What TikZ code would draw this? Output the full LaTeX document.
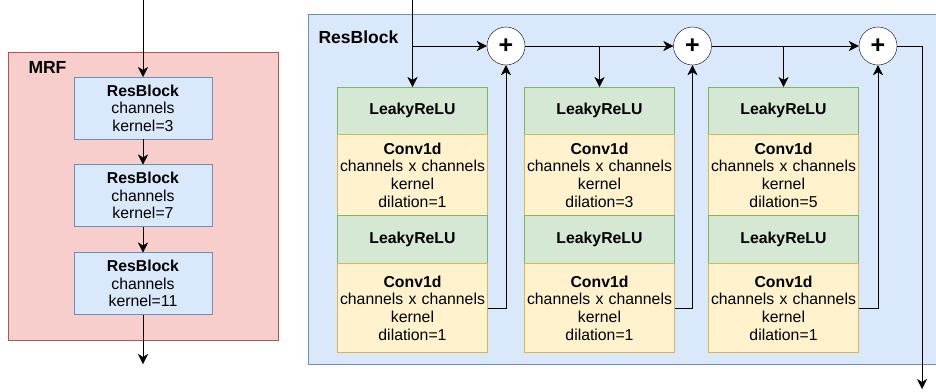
\documentclass[tikz,border=0pt]{standalone}
\usepackage{fontspec}
\setmainfont{Liberation Sans}
\usetikzlibrary{arrows.meta}
\usetikzlibrary{positioning}
\definecolor{blueFill}{HTML}{DAE8FC}
\definecolor{blueDraw}{HTML}{6C8EBF}
\definecolor{redFill}{HTML}{F8CECC}
\definecolor{redDraw}{HTML}{B85450}
\definecolor{greenFill}{HTML}{D5E8D4}
\definecolor{greenDraw}{HTML}{82B366}
\definecolor{yellowFill}{HTML}{FFF2CC}
\definecolor{yellowDraw}{HTML}{D6B656}
\tikzset{>={Stealth[length=10pt,width=10pt,inset=3pt]}, line width=1.3pt}
\tikzset{
  panel/.style={line width=1pt},
  paneltitle/.style={anchor=west, font=\bfseries\fontsize{17.5}{20}\selectfont},
  mrfbox/.style={draw=blueDraw, fill=blueFill, line width=1pt, minimum width=138pt, minimum height=62pt,
    align=center, inner sep=0pt, outer sep=0pt, font=\fontsize{15.8}{17.6}\selectfont},
  leaky/.style={draw=greenDraw, fill=greenFill, line width=1pt, minimum width=150pt, minimum height=47.5pt,
    inner sep=0pt, outer sep=0pt, font=\bfseries\fontsize{15.8}{17.6}\selectfont},
  conv/.style={draw=yellowDraw, fill=yellowFill, line width=1pt, minimum width=150pt, text width=149pt,
    align=center, inner sep=0pt, outer sep=0pt, font=\fontsize{15.8}{17.6}\selectfont},
  adder/.style={circle, draw, fill=white, minimum size=38pt, inner sep=0pt,
    font=\bfseries\fontsize{25}{25}\selectfont},
}

\begin{document}
\begin{tikzpicture}[x=1pt,y=-1pt]
  \useasboundingbox (0,0) rectangle (936,391);
  \clip (0,0) rectangle (936,391);
  \def\mx{143}
  \def\cxa{412.5}
  \def\cxb{599.5}
  \def\cxc{783.5}
  \def\ytop{87}
  \def\ysum{46}

  % MRF
  \draw[panel, draw=redDraw, fill=redFill] (8,52) rectangle (278,340);
  \node[paneltitle] (mrftitle) at (25,67) {MRF};
  \node[mrfbox] (mrf1) at (\mx,108) {\textbf{ResBlock}\\channels\\kernel=3};
  \node[mrfbox] (mrf2) at (\mx,195.5) {\textbf{ResBlock}\\channels\\kernel=7};
  \node[mrfbox] (mrf3) at (\mx,283.5) {\textbf{ResBlock}\\channels\\kernel=11};
  \coordinate (mrfin) at (\mx,0);
  \coordinate (mrfout) at (\mx,364);
  \draw[->] (mrfin) -- (mrf1);
  \draw[->] (mrf1) -- (mrf2);
  \draw[->] (mrf2) -- (mrf3);
  \draw[->] (mrf3) -- (mrfout);

  % ResBlock
  \draw[panel, draw=blueDraw, fill=blueFill] (308,14) rectangle (945,364);
  \node[paneltitle] (rbtitle) at (315,37) {ResBlock};

  % dilation 1
  \node[leaky, anchor=north] (lr11) at (\cxa,\ytop) {LeakyReLU};
  \node[conv, minimum height=81pt, below=0pt of lr11] (cv11) {\textbf{Conv1d}\\channels x channels\\kernel\\dilation=1};
  \node[leaky, minimum height=48pt, below=0pt of cv11] (lr12) {LeakyReLU};
  \node[conv, minimum height=89pt, below=0pt of lr12] (cv12) {\textbf{Conv1d}\\channels x channels\\kernel\\dilation=1};

  % dilation 3
  \node[leaky, anchor=north] (lr21) at (\cxb,\ytop) {LeakyReLU};
  \node[conv, minimum height=81pt, below=0pt of lr21] (cv21) {\textbf{Conv1d}\\channels x channels\\kernel\\dilation=3};
  \node[leaky, minimum height=48pt, below=0pt of cv21] (lr22) {LeakyReLU};
  \node[conv, minimum height=89pt, below=0pt of lr22] (cv22) {\textbf{Conv1d}\\channels x channels\\kernel\\dilation=1};

  % dilation 5
  \node[leaky, anchor=north] (lr31) at (\cxc,\ytop) {LeakyReLU};
  \node[conv, minimum height=81pt, below=0pt of lr31] (cv31) {\textbf{Conv1d}\\channels x channels\\kernel\\dilation=5};
  \node[leaky, minimum height=48pt, below=0pt of cv31] (lr32) {LeakyReLU};
  \node[conv, minimum height=89pt, below=0pt of lr32] (cv32) {\textbf{Conv1d}\\channels x channels\\kernel\\dilation=1};

  % sums
  \node[adder] (add1) at (506,\ysum) {+};
  \node[adder] (add2) at (692.5,\ysum) {+};
  \node[adder] (add3) at (878,\ysum) {+};

  \coordinate (rbin) at (\cxa,0);
  \coordinate (rbout) at (922,389);
  \draw[->] (rbin) -- (lr11.north);
  \draw[->] (rbin |- add1) -- (add1);
  \draw[->] (cv12.east) -| (add1.south);

  \draw[->] (add1) -- (add2);
  \draw[->] (lr21.north |- add1) -- (lr21.north);
  \draw[->] (cv22.east) -| (add2.south);

  \draw[->] (add2) -- (add3);
  \draw[->] (lr31.north |- add2) -- (lr31.north);
  \draw[->] (cv32.east) -| (add3.south);

  \draw[->] (add3.east) -| (rbout);
\end{tikzpicture}
\end{document}
